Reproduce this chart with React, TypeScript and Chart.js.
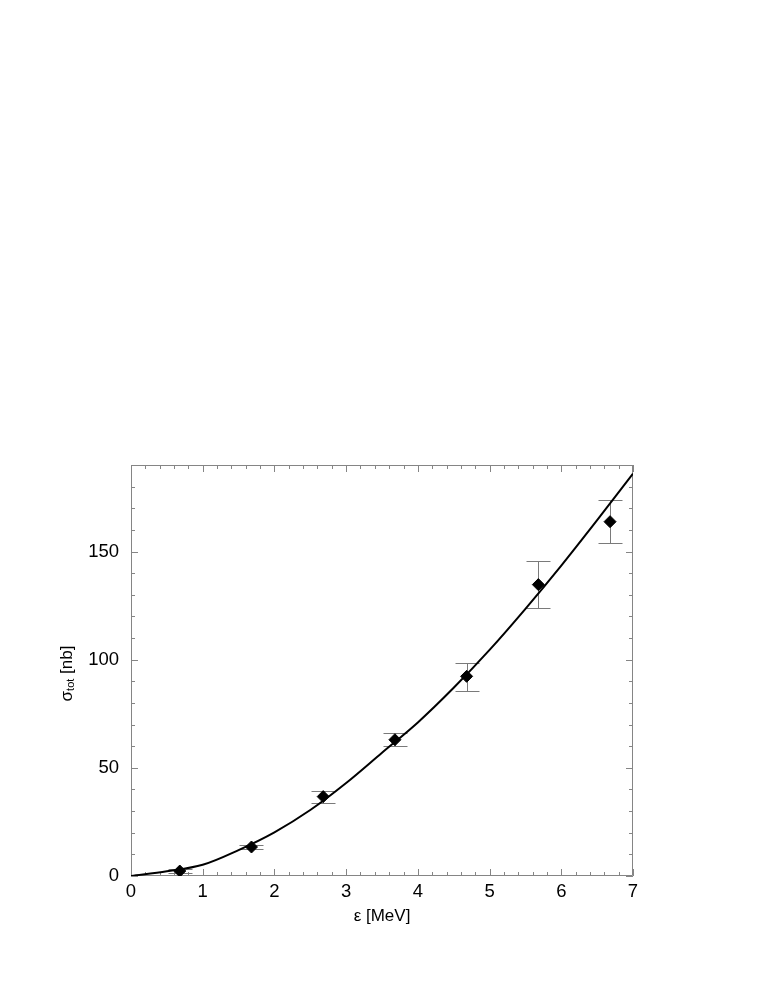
import React, { useEffect, useRef } from "react";
import { Chart, registerables } from "chart.js";

Chart.register(...registerables);

// theory curve
const curveX = [0, 0.5, 1, 1.5, 2, 2.5, 3, 3.5, 4, 4.5, 5, 5.5, 6, 6.5, 7];
const curveY = [0, 2.2, 5.2, 12, 20.2, 30.5, 43, 57, 71, 87, 104.5, 123.5, 143.5, 164.5, 186];

// measured points
const dataX = [0.68, 1.68, 2.68, 3.68, 4.68, 5.68, 6.68];
const dataY = [2.3, 13.4, 36.7, 63.0, 92.3, 134.7, 163.8];
const errHigh = [3.4, 14.5, 39.2, 66.2, 98.6, 145.8, 173.9];
const errLow = [1.2, 12.3, 33.9, 59.9, 85.7, 124.0, 153.8];

const xTickValues = [0, 1, 2, 3, 4, 5, 6, 7];
const yTickValues = [0, 50, 100, 150];

const FONT = "'Liberation Sans', Arial, Helvetica, sans-serif";
const GRAY = "#858585";

const framePlugin = {
  id: "frameTicks",
  beforeDatasetsDraw(chart: any) {
    const { ctx, chartArea, scales } = chart;
    const { left, right, top, bottom } = chartArea;
    const xs = scales.x;
    const ys = scales.y;
    ctx.save();
    ctx.strokeStyle = GRAY;
    ctx.lineWidth = 1;
    ctx.beginPath();
    ctx.rect(left + 0.5, top + 0.5, right - left - 1, bottom - top - 1);
    ctx.stroke();
    // x ticks (minor every 0.2)
    ctx.beginPath();
    for (let i = 0; i <= 35; i++) {
      const v = i / 5;
      const len = i % 5 === 0 ? 7 : 4;
      const px = Math.round(xs.getPixelForValue(v)) + 0.5;
      ctx.moveTo(px, bottom);
      ctx.lineTo(px, bottom - len);
      ctx.moveTo(px, top);
      ctx.lineTo(px, top + len);
    }
    // y ticks (minor every 10)
    for (let v = 0; v <= 190; v += 10) {
      const len = v % 50 === 0 ? 7 : 4;
      const py = Math.round(ys.getPixelForValue(v)) + 0.5;
      ctx.moveTo(left, py);
      ctx.lineTo(left + len, py);
      ctx.moveTo(right, py);
      ctx.lineTo(right - len, py);
    }
    ctx.stroke();
    // error bars
    ctx.strokeStyle = "#7a7a7a";
    ctx.beginPath();
    for (let i = 0; i < dataX.length; i++) {
      const px = Math.round(xs.getPixelForValue(dataX[i])) + 0.5;
      const yh = Math.round(ys.getPixelForValue(errHigh[i])) + 0.5;
      const yl = Math.round(ys.getPixelForValue(errLow[i])) + 0.5;
      ctx.moveTo(px, yh);
      ctx.lineTo(px, yl);
      ctx.moveTo(px - 12, yh);
      ctx.lineTo(px + 12, yh);
      ctx.moveTo(px - 12, yl);
      ctx.lineTo(px + 12, yl);
    }
    ctx.stroke();
    ctx.restore();
  },
  afterDraw(chart: any) {
    const { ctx, chartArea, scales } = chart;
    const ys = scales.y;
    ctx.save();
    const cx = ys.left + 72;
    const cy = (chartArea.top + chartArea.bottom) / 2 + 3;
    ctx.translate(cx, cy);
    ctx.rotate(-Math.PI / 2);
    ctx.fillStyle = "#000";
    ctx.textBaseline = "alphabetic";
    ctx.textAlign = "left";
    const mainFont = `17px ${FONT}`;
    const subFont = `11px ${FONT}`;
    ctx.font = mainFont;
    const wSigma = ctx.measureText("σ").width;
    const wRest = ctx.measureText(" [nb]").width;
    ctx.font = subFont;
    const wSub = ctx.measureText("tot").width;
    const total = wSigma + wSub + wRest;
    let x = -total / 2;
    ctx.font = mainFont;
    ctx.fillText("σ", x, 0);
    x += wSigma;
    ctx.font = subFont;
    ctx.fillText("tot", x, 2);
    x += wSub;
    ctx.font = mainFont;
    ctx.fillText(" [nb]", x, 0);
    ctx.restore();
  },
};

export default function App() {
  const ref = useRef<HTMLCanvasElement | null>(null);
  useEffect(() => {
    if (!ref.current) return;
    const chart = new Chart(ref.current, {
      type: "scatter",
      data: {
        datasets: [
          {
            label: "data",
            data: dataX.map((x, i) => ({ x, y: dataY[i] })),
            pointStyle: "rectRot",
            pointRadius: 6,
            pointBorderWidth: 1,
            backgroundColor: "#000",
            borderColor: "#000",
            showLine: false,
            order: 0,
          },
          {
            label: "theory",
            data: curveX.map((x, i) => ({ x, y: curveY[i] })),
            showLine: true,
            borderColor: "#000",
            borderWidth: 2,
            pointRadius: 0,
            cubicInterpolationMode: "monotone",
            fill: false,
            order: 1,
          } as any,
        ],
      },
      options: {
        responsive: false,
        animation: false,
        devicePixelRatio: 1,
        layout: { padding: { top: 465, right: 130, left: 0, bottom: 0 } },
        plugins: { legend: { display: false }, tooltip: { enabled: false } },
        scales: {
          x: {
            type: "linear",
            min: 0,
            max: 7,
            afterFit: (s: any) => {
              s.height = 111;
            },
            afterBuildTicks: (s: any) => {
              s.ticks = xTickValues.map((v) => ({ value: v }));
            },
            grid: { display: false, drawTicks: false },
            border: { display: false },
            ticks: {
              color: "#000",
              font: { family: FONT, size: 18.5 },
              padding: 5,
              maxRotation: 0,
            },
            title: {
              display: true,
              text: "ε [MeV]",
              color: "#000",
              font: { family: FONT, size: 17 },
              padding: { top: 0, bottom: 60 },
            },
          },
          y: {
            type: "linear",
            min: 0,
            max: 190,
            afterFit: (s: any) => {
              s.width = 131;
            },
            afterBuildTicks: (s: any) => {
              s.ticks = yTickValues.map((v) => ({ value: v }));
            },
            grid: { display: false, drawTicks: false },
            border: { display: false },
            ticks: {
              color: "#000",
              font: { family: FONT, size: 18.5 },
              padding: 12,
            },
          },
        },
      },
      plugins: [framePlugin],
    });
    return () => chart.destroy();
  }, []);
  return (
    <canvas
      ref={ref}
      width={763}
      height={987}
      style={{ position: "absolute", left: 0, top: 0, width: 763, height: 987, display: "block" }}
    />
  );
}
